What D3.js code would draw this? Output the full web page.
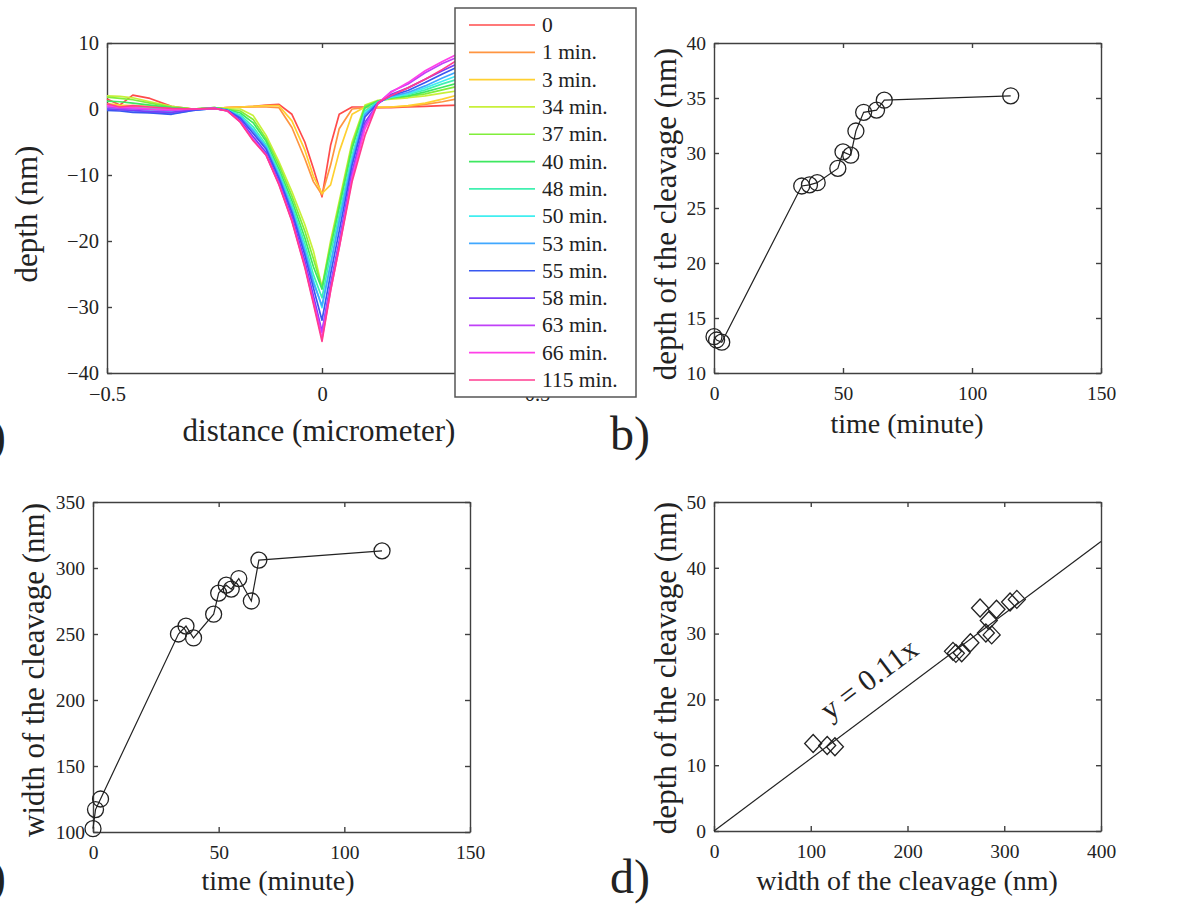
<!DOCTYPE html>
<html>
<head>
<meta charset="utf-8">
<script src="https://cdn.jsdelivr.net/npm/d3@7"></script>
<style>
  body { margin: 0; background: #fff; }
  svg text { font-family: "Times New Roman", "Liberation Serif", serif; fill: #222; }
</style>
</head>
<body>
<svg id="fig" width="1182" height="908"></svg>
<script>
// ---- panel a: depth profiles across the cleavage ----
const distance = [-0.5, -0.47, -0.44, -0.4, -0.35, -0.3, -0.25, -0.22, -0.19, -0.16, -0.13, -0.1, -0.07,
                  -0.04, -0.02, 0, 0.02, 0.04, 0.07, 0.1, 0.13, 0.16, 0.2, 0.24, 0.28, 0.32];

const depth_t0   = [1.5, 0.6, 2.1, 1.6, 0.4, 0.0, 0.1, 0.2, 0.3, 0.4, 0.6, 0.7, -0.8, -5.0, -9.0, -13.3, -5.5, -0.8, 0.3, 0.3, 0.2, 0.2, 0.3, 0.4, 0.5, 0.6];
const depth_t1   = [0.5, 0.3, 0.4, 0.3, 0.2, 0.0, 0.1, 0.2, 0.3, 0.3, 0.3, 0.2, -2.8, -7.5, -11.0, -13.0, -8.5, -3.0, 0.0, 0.2, 0.2, 0.3, 0.4, 0.7, 1.1, 1.6];
const depth_t3   = [0.8, 0.6, 0.5, 0.4, 0.2, 0.0, 0.1, 0.2, 0.3, 0.4, 0.5, 0.5, -1.8, -6.2, -10.2, -12.8, -11.5, -6.5, -0.8, 0.3, 0.3, 0.3, 0.5, 0.9, 1.5, 2.2];
const depth_t34  = [2.0, 1.9, 1.7, 1.1, 0.4, 0.0, 0.2, 0.0, 0.0, -1.0, -4.0, -8.0, -12.5, -17.5, -21.5, -27.0, -20.0, -14.0, -5.0, 0.6, 1.3, 1.5, 1.7, 2.0, 2.4, 2.8];
const depth_t37  = [1.8, 1.6, 1.4, 0.9, 0.3, 0.0, 0.2, -0.05, -0.3, -1.6, -4.5, -8.5, -13.2, -18.5, -22.7, -27.1, -20.5, -14.5, -5.5, 0.4, 1.2, 1.6, 1.9, 2.3, 2.9, 3.5];
const depth_t40  = [1.2, 1.1, 0.9, 0.6, 0.2, 0.0, 0.2, -0.1, -0.6, -2.1, -4.9, -9.1, -13.9, -19.5, -23.9, -27.3, -21.0, -15.0, -6.0, 0.2, 1.2, 1.7, 2.0, 2.6, 3.3, 4.0];
const depth_t48  = [0.4, 0.3, 0.2, 0.1, 0.0, -0.1, 0.1, -0.15, -0.9, -2.7, -5.4, -9.6, -14.5, -20.4, -25.1, -28.6, -22.0, -16.0, -7.0, -0.3, 1.1, 1.8, 2.2, 2.9, 3.8, 4.6];
const depth_t50  = [0.2, 0.1, 0.0, -0.2, -0.4, -0.1, 0.1, -0.15, -1.1, -3.1, -5.7, -9.9, -15.0, -21.1, -25.9, -30.1, -23.5, -17.0, -7.5, -0.6, 1.0, 1.8, 2.3, 3.2, 4.2, 5.2];
const depth_t53  = [0.0, -0.1, -0.3, -0.5, -0.7, -0.2, 0.1, -0.2, -1.2, -3.3, -5.8, -10.1, -15.2, -21.4, -26.3, -29.8, -23.5, -17.0, -7.8, -0.8, 1.0, 1.9, 2.5, 3.5, 4.7, 5.8];
const depth_t55  = [-0.2, -0.3, -0.5, -0.6, -0.8, -0.2, 0.1, -0.2, -1.4, -3.7, -6.1, -10.5, -15.7, -22.1, -27.1, -32.0, -25.0, -18.5, -8.5, -1.2, 0.9, 2.0, 2.8, 4.0, 5.3, 6.5];
const depth_t58  = [0.0, -0.1, -0.2, -0.4, -0.5, -0.1, 0.1, -0.25, -1.7, -4.2, -6.6, -11.0, -16.3, -23.0, -28.3, -33.7, -26.5, -20.0, -9.5, -2.0, 0.8, 2.2, 3.2, 4.5, 5.8, 7.0];
const depth_t63  = [0.3, 0.1, 0.0, -0.1, -0.2, 0.0, 0.1, -0.3, -1.9, -4.6, -6.9, -11.3, -16.8, -23.7, -29.1, -33.9, -27.0, -20.5, -10.0, -2.5, 0.8, 2.6, 3.8, 5.5, 6.9, 8.0];
const depth_t66  = [0.5, 0.3, 0.2, 0.0, -0.1, 0.0, 0.1, -0.3, -2.0, -4.7, -7.0, -11.4, -16.9, -23.8, -29.2, -34.8, -27.5, -21.0, -10.5, -3.0, 0.9, 2.5, 4.0, 5.8, 7.2, 8.5];
const depth_t115 = [0.8, 0.3, 0.5, 0.3, 0.1, 0.0, 0.1, -0.3, -2.0, -4.8, -7.0, -11.5, -17.0, -24.0, -29.5, -35.2, -27.5, -21.0, -11.0, -4.0, 1.0, 2.0, 3.2, 4.5, 6.0, 7.6];

const profiles = [depth_t0, depth_t1, depth_t3, depth_t34, depth_t37, depth_t40, depth_t48,
                  depth_t50, depth_t53, depth_t55, depth_t58, depth_t63, depth_t66, depth_t115];
const profileLabels = ["0", "1 min.", "3 min.", "34 min.", "37 min.", "40 min.", "48 min.",
                       "50 min.", "53 min.", "55 min.", "58 min.", "63 min.", "66 min.", "115 min."];
const profileColors = ["#ff4b4b", "#ff9540", "#ffd030", "#c8f03a", "#80ee3a", "#3ee860", "#40f0b0",
                       "#40eef0", "#40a8ff", "#3858f0", "#7a3cf8", "#c040f8", "#ff40e8", "#ff3c90"];

// ---- panels b, c, d ----
const timeMin  = [0, 1, 3, 34, 37, 40, 48, 50, 53, 55, 58, 63, 66, 115];
const depthNm  = [13.3, 13.0, 12.8, 27.0, 27.1, 27.3, 28.6, 30.1, 29.8, 32.0, 33.7, 33.9, 34.8, 35.2];
const widthNm  = [102.5, 117, 125, 250, 256, 247, 265, 281, 287, 284, 292, 275, 306, 313];
const fitX = [0, 400];
const fitY = [0, 44];

const svg = d3.select('#fig');
svg.append('rect').attr('width', 1182).attr('height', 908).attr('fill', '#fff');

const fmt = d3.format('');
const axisColor = '#404040';

// MATLAB-like box: labels on left/bottom, inward ticks on all four sides
function drawFrame(x, y, xTicks, yTicks, fontSize) {
  const [x0, x1] = x.range(), [y0, y1] = y.range();
  const g = svg.append('g');
  g.append('g').attr('transform', `translate(0,${y0})`)
    .call(d3.axisBottom(x).tickValues(xTicks).tickFormat(fmt).tickSizeInner(-5).tickSizeOuter(0).tickPadding(13));
  g.append('g').attr('transform', `translate(0,${y1})`)
    .call(d3.axisTop(x).tickValues(xTicks).tickFormat('').tickSizeInner(-5).tickSizeOuter(0));
  g.append('g').attr('transform', `translate(${x0},0)`)
    .call(d3.axisLeft(y).tickValues(yTicks).tickFormat(fmt).tickSizeInner(-5).tickSizeOuter(0).tickPadding(8));
  g.append('g').attr('transform', `translate(${x1},0)`)
    .call(d3.axisRight(y).tickValues(yTicks).tickFormat('').tickSizeInner(-5).tickSizeOuter(0));
  g.selectAll('path, line').attr('stroke', axisColor).attr('stroke-width', 1.4);
  g.selectAll('text').attr('font-size', fontSize).attr('fill', '#222')
    .attr('font-family', '"Times New Roman", "Liberation Serif", serif');
  return g;
}

function yTitle(text, cx, cy, size) {
  svg.append('text').attr('transform', `translate(${cx},${cy}) rotate(-90)`)
    .attr('text-anchor', 'middle').attr('dy', '0.35em').attr('font-size', size).text(text);
}
function xTitle(text, cx, by, size) {
  svg.append('text').attr('x', cx).attr('y', by).attr('text-anchor', 'middle')
    .attr('font-size', size).text(text);
}
function panelTag(text, xEnd, by) {
  svg.append('text').attr('x', xEnd).attr('y', by).attr('text-anchor', 'end')
    .attr('font-size', 48).text(text);
}

// ---------- panel a ----------
{
  const x = d3.scaleLinear().domain([-0.5, 0.5]).range([107, 537]);
  const y = d3.scaleLinear().domain([-40, 10]).range([373, 43]);
  drawFrame(x, y, [-0.5, 0, 0.5], [-40, -30, -20, -10, 0, 10], 20.5);
  const line = d3.line().x((d, i) => x(distance[i])).y(d => y(d));
  svg.append('g').selectAll('path').data(profiles).join('path')
    .attr('d', d => line(d)).attr('fill', 'none')
    .attr('stroke', (d, i) => profileColors[i]).attr('stroke-width', 1.7)
    .attr('stroke-linejoin', 'round');
  yTitle('depth (nm)', 26, 214, 31);
  xTitle('distance (micrometer)', 319, 441, 31);
  panelTag('a)', 6, 452);

  // legend box over the right part of the axes
  const lg = svg.append('g');
  lg.append('rect').attr('x', 455).attr('y', 8).attr('width', 181).attr('height', 389)
    .attr('fill', '#fff').attr('stroke', '#555').attr('stroke-width', 1.5);
  const ly = d3.scalePoint().domain(profileLabels).range([25, 380]);
  lg.selectAll('line').data(profileLabels).join('line')
    .attr('x1', 469).attr('x2', 535).attr('y1', d => ly(d)).attr('y2', d => ly(d))
    .attr('stroke', (d, i) => profileColors[i]).attr('stroke-width', 1.7);
  lg.selectAll('text').data(profileLabels).join('text')
    .attr('x', 542).attr('y', d => ly(d)).attr('dy', '0.33em').attr('font-size', 21.5).text(d => d);
}

// ---------- panel b ----------
{
  const x = d3.scaleLinear().domain([0, 150]).range([714, 1101]);
  const y = d3.scaleLinear().domain([10, 40]).range([373, 43]);
  drawFrame(x, y, [0, 50, 100, 150], [10, 15, 20, 25, 30, 35, 40], 19.5);
  const line = d3.line().x((d, i) => x(timeMin[i])).y(d => y(d));
  svg.append('path').attr('d', line(depthNm)).attr('fill', 'none').attr('stroke', '#222').attr('stroke-width', 1.2);
  svg.append('g').selectAll('circle').data(depthNm).join('circle')
    .attr('cx', (d, i) => x(timeMin[i])).attr('cy', d => y(d)).attr('r', 8)
    .attr('fill', 'none').attr('stroke', '#222').attr('stroke-width', 1.3);
  yTitle('depth of the cleavage (nm)', 665, 214, 31);
  xTitle('time (minute)', 907, 433, 28);
  panelTag('b)', 650, 450);
}

// ---------- panel c ----------
{
  const x = d3.scaleLinear().domain([0, 150]).range([93, 470]);
  const y = d3.scaleLinear().domain([100, 350]).range([832, 502]);
  drawFrame(x, y, [0, 50, 100, 150], [100, 150, 200, 250, 300, 350], 19.5);
  const line = d3.line().x((d, i) => x(timeMin[i])).y(d => y(d));
  svg.append('path').attr('d', line(widthNm)).attr('fill', 'none').attr('stroke', '#222').attr('stroke-width', 1.2);
  svg.append('g').selectAll('circle').data(widthNm).join('circle')
    .attr('cx', (d, i) => x(timeMin[i])).attr('cy', d => y(d)).attr('r', 8)
    .attr('fill', 'none').attr('stroke', '#222').attr('stroke-width', 1.3);
  yTitle('width of the cleavage (nm)', 33, 670, 31);
  xTitle('time (minute)', 278, 890, 28);
  panelTag('c)', 6, 893);
}

// ---------- panel d ----------
{
  const x = d3.scaleLinear().domain([0, 400]).range([714, 1101]);
  const y = d3.scaleLinear().domain([0, 50]).range([831, 502]);
  drawFrame(x, y, [0, 100, 200, 300, 400], [0, 10, 20, 30, 40, 50], 19.5);
  const fit = d3.line().x((d, i) => x(fitX[i])).y(d => y(d));
  svg.append('path').attr('d', fit(fitY)).attr('fill', 'none').attr('stroke', '#222').attr('stroke-width', 1.2);
  svg.append('g').selectAll('path').data(depthNm).join('path')
    .attr('transform', (d, i) => `translate(${x(widthNm[i])},${y(d)})`)
    .attr('d', 'M0,-9L8.5,0L0,9L-8.5,0Z')
    .attr('fill', 'none').attr('stroke', '#222').attr('stroke-width', 1.3);
  // slope of the fit on screen, for the rotated label
  const ang = Math.atan2(y(fitY[1]) - y(fitY[0]), x(fitX[1]) - x(fitX[0])) * 180 / Math.PI;
  const lx = 178;
  svg.append('text')
    .attr('transform', `translate(${x(lx)},${y(lx * fitY[1] / fitX[1])}) rotate(${ang})`)
    .attr('text-anchor', 'middle').attr('y', -19).attr('font-size', 30).text('y = 0.11x');
  yTitle('depth of the cleavage (nm)', 665, 668, 31);
  xTitle('width of the cleavage (nm)', 907, 890, 28);
  panelTag('d)', 650, 893);
}
</script>
</body>
</html>
